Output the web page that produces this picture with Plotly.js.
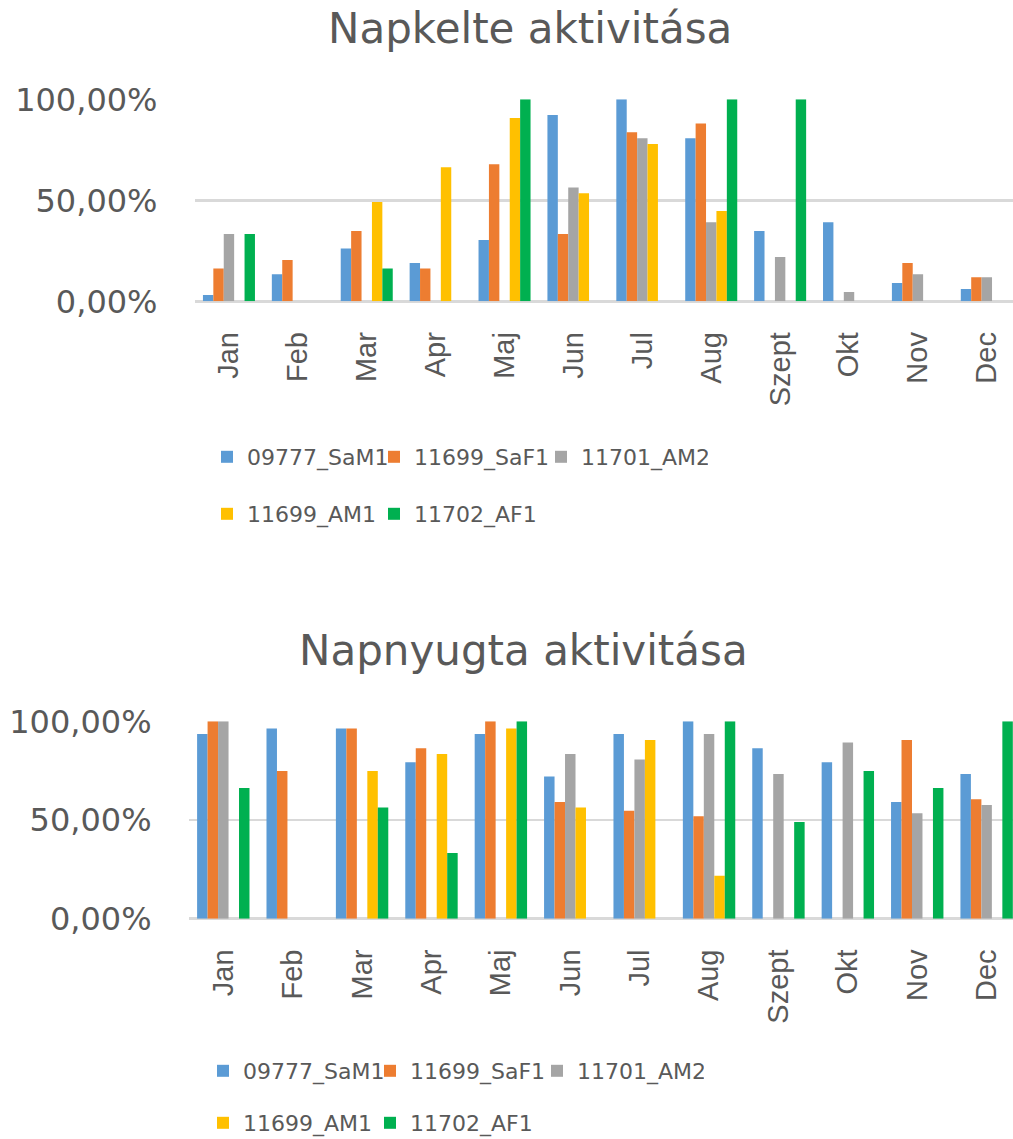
<!DOCTYPE html>
<html>
<head>
<meta charset="utf-8">
<script src="https://cdn.plot.ly/plotly-3.0.1.min.js"></script>
<style>
  html, body { margin: 0; padding: 0; background: #ffffff; overflow: hidden; }
  #chart { width: 1013px; height: 1139px; }
</style>
</head>
<body>
<div id="chart"></div>
<script>
// ---- data ----
const months = ['Jan','Feb','Mar','Apr','Maj','Jun','Jul','Aug','Szept','Okt','Nov','Dec'];
const seriesNames = ['09777_SaM1','11699_SaF1','11701_AM2','11699_AM1','11702_AF1'];
const seriesColors = ['#5B9BD5','#ED7D31','#A5A5A5','#FFC000','#00B050'];

const titleTop = 'Napkelte aktivitása';
const titleBottom = 'Napnyugta aktivitása';

// Napkelte (sunrise)
const riseSaM1 = [0.031, 0.134, 0.262, 0.190, 0.304, 0.922, 1.000, 0.807, 0.348, 0.391, 0.091, 0.061];
const riseSaF1 = [0.162, 0.205, 0.348, 0.162, 0.678, 0.333, 0.837, 0.880, 0, 0, 0.190, 0.119];
const riseAM2  = [0.333, 0, 0, 0, 0, 0.563, 0.807, 0.391, 0.219, 0.046, 0.134, 0.119];
const riseAM1  = [0, 0, 0.492, 0.663, 0.908, 0.535, 0.779, 0.447, 0, 0, 0, 0];
const riseAF1  = [0.333, 0, 0.162, 0, 1.000, 0, 0, 1.000, 1.000, 0, 0, 0];

// Napnyugta (sunset)
const setSaM1 = [0.936, 0.963, 0.963, 0.792, 0.936, 0.720, 0.936, 1.000, 0.863, 0.792, 0.591, 0.733];
const setSaF1 = [1.000, 0.748, 0.963, 0.863, 1.000, 0.591, 0.547, 0.519, 0, 0, 0.905, 0.605];
const setAM2  = [1.000, 0, 0, 0, 0, 0.834, 0.806, 0.936, 0.733, 0.892, 0.534, 0.576];
const setAM1  = [0, 0, 0.748, 0.834, 0.963, 0.563, 0.905, 0.218, 0, 0, 0, 0];
const setAF1  = [0.662, 0, 0.563, 0.333, 1.000, 0, 0, 1.000, 0.490, 0.748, 0.662, 1.000];

const yTickVals = [0, 0.5, 1];

// ---- layout helpers (page pixels -> paper fractions) ----
const W = 1013, H = 1139;
const px = v => v / W;
const py = v => 1 - v / H;

const riseSeries = [riseSaM1, riseSaF1, riseAM2, riseAM1, riseAF1];
const setSeries  = [setSaM1, setSaF1, setAM2, setAM1, setAF1];

const traces = [];
riseSeries.forEach((vals, i) => {
  traces.push({
    type: 'bar', x: months, y: vals, name: seriesNames[i],
    marker: { color: seriesColors[i] },
    xaxis: 'x', yaxis: 'y',
    legend: i < 3 ? 'legend' : 'legend2',
    hoverinfo: 'skip'
  });
});
setSeries.forEach((vals, i) => {
  traces.push({
    type: 'bar', x: months, y: vals, name: seriesNames[i],
    marker: { color: seriesColors[i] },
    xaxis: 'x2', yaxis: 'y2',
    legend: i < 3 ? 'legend3' : 'legend4',
    hoverinfo: 'skip'
  });
});

const fontColor = '#595959';
const gridColor = '#D9D9D9';

function xAxis(domain, anchor) {
  return {
    domain: domain, anchor: anchor, type: 'category',
    categoryorder: 'array', categoryarray: months,
    range: [-0.5, 11.38],
    showgrid: false, zeroline: false, showline: false,
    ticks: '', tickangle: -90, ticklabelstandoff: 24,
    tickfont: { family: 'Liberation Sans', size: 29, color: fontColor },
    fixedrange: true
  };
}
function yAxis(domain, anchor) {
  return {
    domain: domain, anchor: anchor, range: [0, 1],
    tickvals: yTickVals, tickformat: '.2%',
    showgrid: true, gridcolor: gridColor, gridwidth: 2.5,
    zeroline: true, zerolinecolor: gridColor, zerolinewidth: 2.5,
    showline: false, ticks: '', ticklabelstandoff: 36,
    tickfont: { family: 'DejaVu Sans', size: 32, color: fontColor },
    fixedrange: true
  };
}
function legend(xPix, yPix) {
  return {
    orientation: 'h', x: px(xPix), xanchor: 'left', y: py(yPix), yanchor: 'middle',
    entrywidth: 122, entrywidthmode: 'pixels',
    font: { family: 'DejaVu Sans', size: 22, color: fontColor },
    bgcolor: 'rgba(0,0,0,0)', borderwidth: 0, itemclick: false, itemdoubleclick: false
  };
}

const layout = {
  width: W, height: H,
  margin: { l: 0, r: 0, t: 0, b: 0, pad: 0, autoexpand: false },
  paper_bgcolor: '#ffffff', plot_bgcolor: '#ffffff',
  font: { family: 'DejaVu Sans', color: fontColor },
  separators: ', ',
  barmode: 'group', bargap: 0.245, bargroupgap: 0,
  showlegend: true,
  xaxis:  xAxis([194.5 / W, 1], 'y'),
  yaxis:  yAxis([py(301.3), py(99.3)], 'x'),
  xaxis2: xAxis([188.6 / W, 1], 'y2'),
  yaxis2: yAxis([py(918.7), py(721.3)], 'x2'),
  legend:  legend(207, 457),
  legend2: legend(207, 514),
  legend3: legend(203, 1071),
  legend4: legend(203, 1123),
  annotations: [
    { text: titleTop, xref: 'paper', yref: 'paper', x: px(530), y: py(28),
      xanchor: 'center', yanchor: 'middle', showarrow: false,
      font: { family: 'DejaVu Sans', size: 42, color: fontColor } },
    { text: titleBottom, xref: 'paper', yref: 'paper', x: px(523), y: py(650),
      xanchor: 'center', yanchor: 'middle', showarrow: false,
      font: { family: 'DejaVu Sans', size: 42, color: fontColor } }
  ]
};

Plotly.newPlot('chart', traces, layout, { displayModeBar: false, staticPlot: true });
</script>
</body>
</html>
